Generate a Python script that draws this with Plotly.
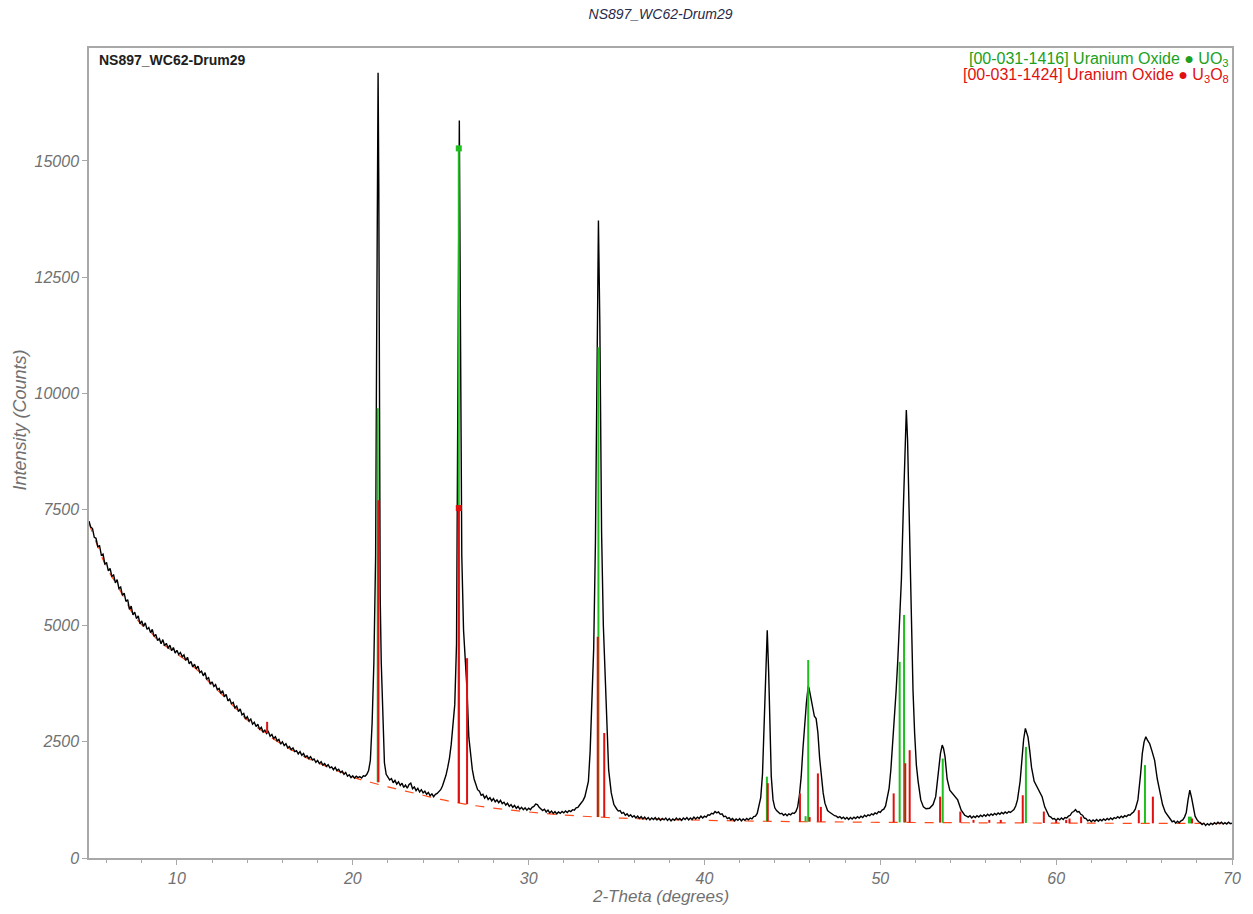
import plotly.graph_objects as go

# ---------------- data ----------------
# measured scan, low-angle part (2-Theta in degrees, intensity in counts)
scan_low_2theta = [
    5.0, 5.1, 5.2, 5.3, 5.4, 5.5, 5.6, 5.7, 5.8, 5.9, 6.0, 6.1, 6.2, 6.3, 6.4, 6.5, 6.6, 6.7, 6.8, 6.9,
    7.0, 7.1, 7.2, 7.3, 7.4, 7.5, 7.6, 7.7, 7.8, 7.9, 8.0, 8.1, 8.2, 8.3, 8.4, 8.5, 8.6, 8.7, 8.8, 8.9,
    9.0, 9.1, 9.2, 9.3, 9.4, 9.5, 9.6, 9.7, 9.8, 9.9, 10.0, 10.1, 10.2, 10.3, 10.4, 10.5, 10.6, 10.7, 10.8, 10.9,
    11.0, 11.1, 11.2, 11.3, 11.4, 11.5, 11.6, 11.7, 11.8, 11.9, 12.0, 12.1, 12.2, 12.3, 12.4, 12.5, 12.6, 12.7, 12.8, 12.9,
    13.0, 13.1, 13.2, 13.3, 13.4, 13.5, 13.6, 13.7, 13.8, 13.9, 14.0, 14.1, 14.2, 14.3, 14.4, 14.5, 14.6, 14.7, 14.8, 14.9,
    15.0, 15.1, 15.2, 15.3, 15.4, 15.5, 15.6, 15.7, 15.8, 15.9, 16.0, 16.1, 16.2, 16.3, 16.4, 16.5, 16.6, 16.7, 16.8, 16.9,
    17.0, 17.1, 17.2, 17.3, 17.4, 17.5, 17.6, 17.7, 17.8, 17.9, 18.0, 18.1, 18.2, 18.3, 18.4, 18.5, 18.6, 18.7, 18.8, 18.9,
    19.0, 19.1, 19.2, 19.3, 19.4, 19.5, 19.6, 19.7, 19.8, 19.9, 20.0, 20.1, 20.2, 20.3, 20.4, 20.5, 20.6, 20.7, 20.8,
]
scan_low_counts = [
    7250, 7120, 7090, 6900, 6880, 6700, 6720, 6520, 6540, 6330, 6350, 6180, 6230, 6060, 6090, 5920, 5990, 5800, 5830, 5650,
    5700, 5520, 5560, 5350, 5420, 5230, 5290, 5150, 5210, 5040, 5100, 4980, 5060, 4920, 4960, 4850, 4920, 4770, 4810, 4680,
    4720, 4610, 4700, 4570, 4620, 4510, 4580, 4460, 4530, 4410, 4470, 4380, 4420, 4330, 4370, 4250, 4320, 4180, 4230, 4110,
    4170, 4070, 4130, 3990, 4020, 3920, 3990, 3850, 3880, 3740, 3790, 3690, 3730, 3620, 3650, 3540, 3600, 3470, 3520, 3380,
    3420, 3320, 3350, 3230, 3270, 3150, 3210, 3080, 3110, 2990, 3040, 2950, 2990, 2880, 2920, 2830, 2880, 2770, 2810, 2710,
    2750, 2680, 2720, 2620, 2660, 2570, 2610, 2520, 2550, 2450, 2500, 2420, 2460, 2370, 2400, 2330, 2370, 2290, 2310, 2240,
    2290, 2210, 2250, 2170, 2200, 2140, 2180, 2110, 2130, 2060, 2100, 2030, 2070, 2000, 2030, 1970, 2010, 1940, 1960, 1900,
    1950, 1880, 1910, 1840, 1870, 1800, 1840, 1760, 1790, 1730, 1770, 1720, 1760, 1730, 1750, 1720, 1770, 1760, 1800,
]

# measured scan, 20.9 - 35 degrees
scan_mid_2theta = [
    20.9, 21.0, 21.1, 21.2, 21.3, 21.35, 21.4, 21.44, 21.48, 21.52, 21.56, 21.62, 21.7, 21.8, 21.9,
    22.0, 22.1, 22.2, 22.3, 22.4, 22.5, 22.6, 22.7, 22.8, 22.9, 23.0, 23.1, 23.2, 23.3, 23.4, 23.5, 23.6, 23.7, 23.8, 23.9,
    24.0, 24.1, 24.2, 24.3, 24.4, 24.5, 24.6, 24.7, 24.8, 24.9, 25.0, 25.1, 25.2, 25.3, 25.4, 25.5, 25.6, 25.7, 25.8, 25.9,
    25.95, 26.0, 26.06, 26.1, 26.15, 26.2, 26.3, 26.4, 26.5, 26.6, 26.7, 26.8, 26.9,
    27.0, 27.1, 27.2, 27.3, 27.4, 27.5, 27.6, 27.7, 27.8, 27.9, 28.0, 28.1, 28.2, 28.3, 28.4, 28.5, 28.6, 28.7, 28.8, 28.9,
    29.0, 29.1, 29.2, 29.3, 29.4, 29.5, 29.6, 29.7, 29.8, 29.9, 30.0, 30.1, 30.2, 30.3, 30.4, 30.5, 30.6, 30.7, 30.8, 30.9,
    31.0, 31.1, 31.2, 31.3, 31.4, 31.5, 31.6, 31.7, 31.8, 31.9, 32.0, 32.1, 32.2, 32.3, 32.4, 32.5, 32.6, 32.7, 32.8, 32.9,
    33.0, 33.1, 33.2, 33.4, 33.5, 33.6, 33.7, 33.8, 33.9, 33.97, 34.05, 34.15, 34.25, 34.35, 34.45, 34.55, 34.7, 34.85,
]
scan_mid_counts = [
    1880, 2100, 2900, 4200, 6500, 10500, 15000, 16900, 14500, 9000, 5600, 4200, 3000, 2050, 1800,
    1740, 1680, 1710, 1620, 1670, 1590, 1640, 1560, 1610, 1520, 1570, 1500, 1580, 1610, 1490, 1530, 1450, 1500, 1420, 1470,
    1400, 1440, 1370, 1410, 1340, 1380, 1320, 1370, 1390, 1430, 1470, 1550, 1660, 1780, 1950, 2150, 2450, 2850, 3300, 4600,
    7500, 12000, 15870, 13000, 9000, 6500, 4900, 4350, 3600, 2600, 2200, 1900, 1700,
    1580, 1470, 1440, 1350, 1370, 1290, 1340, 1260, 1300, 1230, 1280, 1210, 1250, 1190, 1240, 1170, 1200, 1140, 1180, 1110,
    1150, 1090, 1130, 1070, 1110, 1050, 1090, 1040, 1080, 1030, 1070, 1040, 1090, 1110, 1160, 1150, 1090, 1050, 1020, 1050,
    990, 1030, 970, 1010, 960, 1000, 950, 990, 960, 1000, 970, 1010, 980, 1020, 1000, 1040, 1030, 1080, 1090, 1140,
    1180, 1240, 1320, 1650, 2300, 3300, 4500, 6800, 11000, 13720, 11500, 7000, 5000, 3900, 2700, 1900, 1400, 1150,
]

# measured scan, 35 - 50.4 degrees
scan_upper_2theta = [
    35.0, 35.1, 35.2, 35.3, 35.4, 35.5, 35.6, 35.7, 35.8, 35.9, 36.0, 36.1, 36.2, 36.3, 36.4, 36.5, 36.6, 36.7, 36.8, 36.9,
    37.0, 37.1, 37.2, 37.3, 37.4, 37.5, 37.6, 37.7, 37.8, 37.9, 38.0, 38.1, 38.2, 38.3, 38.4, 38.5, 38.6, 38.7, 38.8, 38.9,
    39.0, 39.1, 39.2, 39.3, 39.4, 39.5, 39.6, 39.7, 39.8, 39.9, 40.0, 40.1, 40.2, 40.3, 40.4, 40.5, 40.6, 40.7, 40.8, 40.9,
    41.0, 41.1, 41.2, 41.3, 41.4, 41.5, 41.6, 41.7, 41.8, 41.9, 42.0, 42.1, 42.2, 42.3, 42.4, 42.5, 42.6, 42.7, 42.8, 42.9,
    43.0, 43.2, 43.3, 43.4, 43.5, 43.57, 43.65, 43.72, 43.8, 43.9,
    44.0, 44.1, 44.2, 44.3, 44.4, 44.5, 44.6, 44.7, 44.8, 44.9, 45.0, 45.1, 45.2, 45.3, 45.4, 45.5, 45.6, 45.7, 45.8, 45.9,
    45.95, 46.05, 46.15, 46.25, 46.35, 46.45, 46.55, 46.65, 46.75, 46.85,
    47.0, 47.1, 47.2, 47.3, 47.4, 47.5, 47.6, 47.7, 47.8, 47.9, 48.0, 48.1, 48.2, 48.3, 48.4, 48.5, 48.6, 48.7, 48.8, 48.9,
    49.0, 49.1, 49.2, 49.3, 49.4, 49.5, 49.6, 49.7, 49.8, 49.9, 50.0, 50.1, 50.2, 50.3,
]
scan_upper_counts = [
    1060, 1010, 1020, 960, 980, 920, 950, 900, 930, 880, 910, 860, 900, 850, 890, 840, 880, 830, 870, 820,
    860, 830, 870, 820, 860, 810, 850, 820, 860, 810, 850, 800, 840, 810, 860, 820, 850, 810, 860, 830,
    870, 820, 860, 830, 880, 840, 880, 850, 900, 860, 900, 880, 930, 920, 960, 950, 1000, 970, 990, 940,
    950, 890, 900, 850, 870, 820, 850, 800, 840, 810, 850, 800, 840, 810, 850, 820, 860, 840, 890, 900,
    960, 1300, 1800, 3100, 4300, 4900, 4000, 3000, 1750, 1250,
    1080, 1020, 990, 950, 960, 920, 950, 910, 950, 930, 970, 960, 1000, 1100, 1350, 1750, 2350, 2950, 3350, 3700,
    3650, 3450, 3200, 3050, 3000, 2700, 2150, 1750, 1400, 1180,
    1020, 990, 960, 940, 910, 900, 870, 890, 850, 880, 840, 870, 830, 870, 840, 880, 850, 890, 860, 900,
    870, 920, 890, 930, 910, 950, 930, 970, 950, 1000, 980, 1030, 1050, 1120,
]

# measured scan, 50.4 - 70 degrees
scan_high_2theta = [
    50.4, 50.5, 50.6, 50.7, 50.8, 50.9, 51.0, 51.1, 51.2, 51.3, 51.4, 51.48, 51.55, 51.62, 51.7,
    51.78, 51.86, 51.95, 52.05, 52.15, 52.3, 52.45, 52.6, 52.8, 53.0, 53.15, 53.3, 53.42, 53.52, 53.6, 53.68, 53.8, 53.95,
    54.1, 54.25, 54.4, 54.6, 54.7, 54.8, 54.9, 55.0, 55.1, 55.2, 55.3, 55.4, 55.5, 55.6, 55.7, 55.8, 55.9,
    56.0, 56.1, 56.2, 56.3, 56.4, 56.5, 56.6, 56.7, 56.8, 56.9, 57.0, 57.1, 57.2, 57.3, 57.4, 57.5, 57.6, 57.7,
    57.8, 57.95, 58.05, 58.15, 58.25, 58.32, 58.4, 58.5, 58.6, 58.75, 58.9, 59.05, 59.2, 59.35,
    59.5, 59.6, 59.7, 59.8, 59.9, 60.0, 60.1, 60.2, 60.3, 60.4, 60.5, 60.6, 60.7, 60.8, 60.9, 61.0, 61.1, 61.2, 61.3, 61.4,
    61.5, 61.6, 61.7, 61.8, 61.9, 62.0, 62.1, 62.2, 62.3, 62.4, 62.5, 62.6, 62.7, 62.8, 62.9, 63.0, 63.1, 63.2, 63.3, 63.4,
    63.5, 63.6, 63.7, 63.8, 63.9, 64.0, 64.1, 64.2, 64.3, 64.4, 64.5, 64.65, 64.8, 64.9, 65.0, 65.1, 65.2, 65.32, 65.45,
    65.6, 65.75, 65.9, 66.05, 66.2, 66.3, 66.4, 66.5, 66.6, 66.7, 66.8, 66.9, 67.0, 67.1, 67.2, 67.3, 67.4, 67.5, 67.6,
    67.7, 67.8, 67.9, 68.0, 68.1, 68.2, 68.3, 68.4, 68.5, 68.6, 68.7, 68.8, 68.9, 69.0, 69.1, 69.2, 69.3, 69.4, 69.5,
    69.6, 69.7, 69.8, 69.9, 70.0,
]
scan_high_counts = [
    1300, 1500, 1900, 2400, 2900, 3600, 4300, 5100, 6000, 7400, 8800, 9640, 9000, 7800, 6200,
    4700, 3600, 2700, 2000, 1650, 1250, 1100, 1060, 1070, 1150, 1320, 1800, 2250, 2430, 2350, 2180, 1700, 1460,
    1390, 1340, 1250, 1030, 960, 920, 900, 880, 910, 860, 900, 870, 910, 880, 920, 890, 930,
    900, 940, 910, 950, 920, 960, 930, 970, 940, 980, 950, 990, 960, 1000, 980, 1010, 1040, 1120,
    1250, 1650, 2200, 2550, 2790, 2700, 2600, 2300, 1950, 1650, 1530, 1420, 1320, 1100,
    960, 900, 880, 840, 850, 810, 850, 820, 860, 830, 870, 860, 900, 920, 980, 1000, 1040, 990, 1000, 940,
    920, 860, 850, 800, 820, 780, 820, 790, 830, 790, 830, 800, 840, 810, 850, 820, 860, 830, 870, 850,
    890, 860, 900, 870, 910, 890, 930, 920, 960, 990, 1050, 1250, 1800, 2250, 2500, 2610, 2530, 2460, 2300,
    2100, 1700, 1420, 1150, 990, 940, 870, 830, 780, 800, 750, 790, 760, 800, 820, 880, 980, 1250, 1460,
    1300, 1080, 900, 830, 780, 760, 720, 750, 700, 740, 710, 750, 720, 760, 730, 770, 740, 770, 730,
    760, 730, 770, 740, 750,
]

# fitted background (red dashed)
bg_2theta = [5, 5.5, 6, 6.5, 7, 7.5, 8, 8.5, 9, 9.5, 10, 10.5, 11, 11.5, 12, 12.5, 13, 13.5, 14, 14.5, 15,
             15.5, 16, 16.5, 17, 17.5, 18, 18.5, 19, 19.5, 20, 20.5, 21, 22, 23, 24, 25, 26, 27, 28, 29, 30,
             31, 32, 33, 34, 35, 36, 38, 40, 42, 44, 46, 48, 50, 52, 55, 58, 61, 64, 67, 70]
bg_counts = [7200, 6700, 6250, 5930, 5600, 5250, 5020, 4860, 4650, 4520, 4390, 4260, 4100, 3920, 3720, 3540,
             3350, 3160, 2970, 2830, 2690, 2560, 2440, 2330, 2230, 2130, 2050, 1970, 1890, 1820, 1740, 1680,
             1630, 1530, 1440, 1350, 1260, 1185, 1125, 1075, 1030, 990, 955, 925, 900, 880, 862, 848, 828,
             812, 798, 788, 780, 774, 768, 764, 758, 754, 750, 747, 744, 741]

# reference sticks: position, base (on background) and top (counts)
uo3_pos = [21.42, 26.03, 33.97, 43.55, 45.75, 45.90, 51.10, 51.35, 53.55, 58.28, 65.05, 67.55, 67.65]
uo3_base = [1630, 1185, 880, 790, 782, 781, 766, 765, 760, 754, 746, 744, 744]
uo3_top = [9680, 15270, 10990, 1750, 900, 4260, 4220, 5230, 2140, 2390, 2000, 890, 890]

u3o8_pos = [15.13, 21.46, 26.03, 26.50, 33.93, 34.30, 43.60, 45.43, 45.98, 46.45, 46.62, 50.76, 51.42, 51.67,
            53.40, 54.55, 55.30, 56.20, 56.85, 58.10, 59.30, 60.00, 60.57, 60.76, 61.42, 64.70, 65.50, 67.73]
u3o8_base = [2690, 1630, 1185, 1160, 880, 878, 790, 782, 781, 780, 779, 768, 765, 765,
             761, 759, 758, 757, 756, 754, 753, 752, 751, 751, 750, 747, 746, 744]
u3o8_top = [2930, 7700, 7530, 4300, 4760, 2690, 1610, 1390, 880, 1820, 1100, 1390, 2040, 2320,
            1320, 1000, 820, 820, 820, 1350, 1000, 800, 820, 850, 890, 1030, 1320, 850]

# strongest-line markers (dots)
dot_2theta = [26.03, 26.03]
dot_counts = [15270, 7530]

x_ticks = [10, 20, 30, 40, 50, 60, 70]
y_ticks = [0, 2500, 5000, 7500, 10000, 12500, 15000]

sample_name = "NS897_WC62-Drum29"
uo3_label = "[00-031-1416] Uranium Oxide \u25CF UO<sub>3</sub>"
u3o8_label = "[00-031-1424] Uranium Oxide \u25CF U<sub>3</sub>O<sub>8</sub>"

GREEN = "#1fbf1f"
GREEN_TXT = "#20a020"
RED = "#e01010"
AXIS = "#a8a8a8"
TICKTXT = "#707070"
FONT = "Liberation Sans, Arial, sans-serif"


def stick_xy(pos, base, top):
    xs, ys = [], []
    for p, b, t in zip(pos, base, top):
        xs += [p, p, None]
        ys += [b, t, None]
    return xs, ys


fig = go.Figure()

fig.add_trace(go.Scatter(x=bg_2theta, y=bg_counts, mode="lines",
                         line=dict(color="#ff4a1a", width=1.2, dash="dash", shape="spline"),
                         hoverinfo="skip", showlegend=False))

fig.add_trace(go.Scatter(
    x=scan_low_2theta + scan_mid_2theta + scan_upper_2theta + scan_high_2theta,
    y=scan_low_counts + scan_mid_counts + scan_upper_counts + scan_high_counts,
    mode="lines", line=dict(color="#000000", width=1.4), showlegend=False))

gx, gy = stick_xy(uo3_pos, uo3_base, uo3_top)
fig.add_trace(go.Scatter(x=gx, y=gy, mode="lines", line=dict(color=GREEN, width=2),
                         showlegend=False, hoverinfo="skip"))
rx, ry = stick_xy(u3o8_pos, u3o8_base, u3o8_top)
fig.add_trace(go.Scatter(x=rx, y=ry, mode="lines", line=dict(color=RED, width=2),
                         showlegend=False, hoverinfo="skip"))

fig.add_trace(go.Scatter(x=dot_2theta, y=dot_counts, mode="markers",
                         marker=dict(color=[GREEN, RED], size=6, symbol="square"),
                         showlegend=False, hoverinfo="skip"))

tickfont = dict(family=FONT, size=16, color=TICKTXT, style="italic")

fig.update_layout(
    width=1253, height=914,
    margin=dict(l=89, r=13, t=48, b=56),
    paper_bgcolor="white", plot_bgcolor="white",
    title=dict(text=sample_name, x=0.5, xref="paper", xanchor="center",
               y=1 - 14 / 914, yref="container", yanchor="middle",
               font=dict(family=FONT, size=14, color="#262a4a", style="italic")),
    xaxis=dict(range=[5, 70], tickvals=x_ticks, ticks="outside", ticklen=5, tickcolor=AXIS,
               showline=True, linecolor=AXIS, linewidth=1.5, mirror=True,
               showgrid=False, zeroline=False, tickfont=tickfont,
               minor=dict(dtick=2, tick0=0, ticks="outside", ticklen=3, tickcolor=AXIS, showgrid=False)),
    yaxis=dict(range=[0, 17430], tickvals=y_ticks, tickformat="d", ticks="outside", ticklen=5,
               tickcolor=AXIS, showline=True, linecolor=AXIS, linewidth=1.5, mirror=True,
               showgrid=False, zeroline=False, tickfont=tickfont),
    annotations=[
        dict(text=sample_name, xref="paper", yref="paper", x=0.007, y=(858 - 60) / 810,
             xanchor="left", yanchor="middle", showarrow=False,
             font=dict(family=FONT, size=14, color="#202020", weight="bold")),
        dict(text=uo3_label, xref="paper", yref="paper", x=0.999, y=(858 - 59) / 810,
             xanchor="right", yanchor="middle", showarrow=False,
             font=dict(family=FONT, size=16, color=GREEN_TXT)),
        dict(text=u3o8_label, xref="paper", yref="paper", x=0.999, y=(858 - 76) / 810,
             xanchor="right", yanchor="middle", showarrow=False,
             font=dict(family=FONT, size=16, color=RED)),
        dict(text="Intensity (Counts)", xref="paper", yref="paper", x=(20 - 89) / 1151,
             y=(858 - 420) / 810, xanchor="center", yanchor="middle", textangle=-90, showarrow=False,
             font=dict(family=FONT, size=18, color=TICKTXT, style="italic")),
        dict(text="2-Theta (degrees)", xref="paper", yref="paper", x=0.5,
             y=-(897 - 858) / 810, xanchor="center", yanchor="middle", showarrow=False,
             font=dict(family=FONT, size=17, color=TICKTXT, style="italic")),
    ],
)

fig.write_html("out.html")
